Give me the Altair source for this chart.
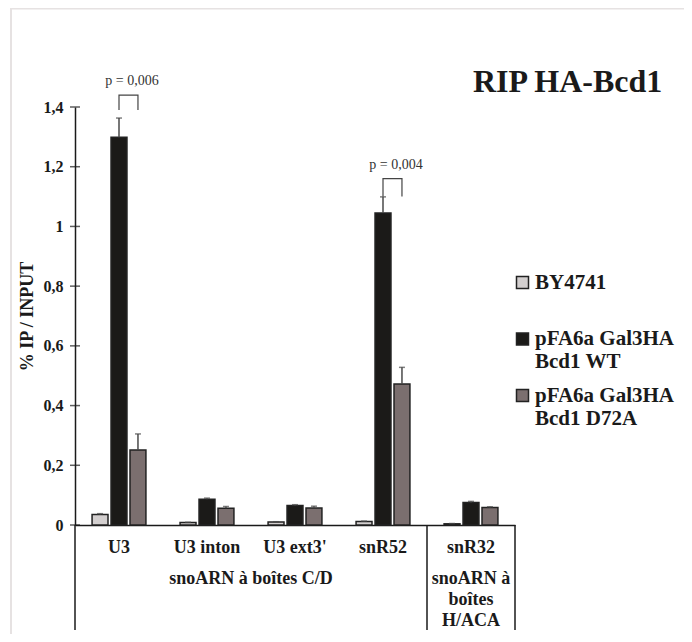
import altair as alt
import pandas as pd

# ---- data ----
categories = ["U3", "U3 inton", "U3 ext3'", "snR52", "snR32"]
series = ["BY4741", "pFA6a Gal3HA Bcd1 WT", "pFA6a Gal3HA Bcd1 D72A"]
by4741 = [0.035, 0.008, 0.010, 0.012, 0.004]
wt = [1.299, 0.086, 0.065, 1.045, 0.075]
d72a = [0.251, 0.056, 0.057, 0.472, 0.059]
err_by4741 = [0.003, 0.001, 0.001, 0.001, 0.001]
err_wt = [0.064, 0.004, 0.003, 0.054, 0.004]
err_d72a = [0.054, 0.006, 0.006, 0.056, 0.002]

group_names = ["snoARN à boîtes C/D", "snoARN à|boîtes|H/ACA"]
group_start = [0, 4]
group_count = [4, 1]

pval_cats = ["U3", "snR52"]
pval_labels = ["p = 0,006", "p = 0,004"]
pval_text_y = [1.487, 1.205]
bracket_top = [1.44, 1.16]
bracket_leg = [1.39, 1.10]

y_ticks = [0, 0.2, 0.4, 0.6, 0.8, 1.0, 1.2, 1.4]

colors = ["#d3cfcf", "#1b1a18", "#7b6f6f"]
FONT = "Liberation Serif"

# ---- tables ----
rows = []
for s, vals, errs in zip(series, [by4741, wt, d72a], [err_by4741, err_wt, err_d72a]):
    for c, v, e in zip(categories, vals, errs):
        rows.append({"cat": c, "series": s, "value": v, "top": v + e})
bars_df = pd.DataFrame(rows)

br_rows = []
for c, t, l in zip(pval_cats, bracket_top, bracket_leg):
    pts = [(series[1], l), (series[1], t), (series[2], t), (series[2], l)]
    for i, (s, y) in enumerate(pts):
        br_rows.append({"cat": c, "series": s, "y": y, "order": i})
br_df = pd.DataFrame(br_rows)

pv_df = pd.DataFrame({"cat": pval_cats, "series": series[2], "label": pval_labels, "y": pval_text_y})

grp_df = pd.DataFrame({"name": group_names, "start": group_start, "count": group_count})
div_df = pd.DataFrame({"pos": [0] + [s + c for s, c in zip(group_start, group_count)]})
tick_df = pd.DataFrame({"v": y_ticks})

x_off = alt.XOffset("series:N", sort=series,
                    scale=alt.Scale(domain=series, paddingInner=0.16, paddingOuter=0.9))
y_scale = alt.Scale(domain=[0, 1.4], nice=False)
q_scale = alt.Scale(domain=[0, len(categories)], nice=False, zero=False)


def xband(axis=None):
    return alt.X("cat:N", sort=categories,
                 scale=alt.Scale(domain=categories, paddingInner=0, paddingOuter=0), axis=axis)


bars = alt.Chart(bars_df).mark_bar(stroke="#222222", strokeWidth=1.5).encode(
    x=xband(alt.Axis(title=None, labelAngle=0, labelFont=FONT, labelFontSize=18,
                     labelFontWeight="bold", labelColor="#1a1a1a", labelPadding=13,
                     ticks=False, domainColor="#1a1a1a", domainWidth=1.5)),
    xOffset=x_off,
    y=alt.Y("value:Q", scale=y_scale,
            axis=alt.Axis(title="% IP / INPUT", values=y_ticks, grid=False, ticks=False,
                          labelExpr="replace(format(datum.value, '~g'), '.', ',')",
                          labelFont=FONT, labelFontSize=16, labelFontWeight="bold",
                          labelColor="#1a1a1a", labelPadding=12,
                          domainColor="#1a1a1a", domainWidth=1.5,
                          titleFont=FONT, titleFontSize=18, titleFontWeight="bold",
                          titleColor="#1a1a1a", titlePadding=7)),
    color=alt.Color("series:N", sort=series, scale=alt.Scale(domain=series, range=colors),
                    legend=alt.Legend(title=None, orient="none", legendX=437, legendY=165,
                                      symbolType="square", symbolSize=144,
                                      symbolStrokeColor="#222222", symbolStrokeWidth=1.5,
                                      labelFont=FONT, labelFontSize=21, labelFontWeight="bold",
                                      labelColor="#1a1a1a",
                                      labelOffset=2, labelLimit=300, rowPadding=11.5,
                                      labelBaseline="middle",
                                      labelExpr="datum.label == 'BY4741' ? ['BY4741', ''] : ['\u00a0' + slice(datum.label, 0, 12), slice(datum.label, 13)]")),
)

err_rule = alt.Chart(bars_df).mark_rule(color="#4a4a4a", strokeWidth=1.5).encode(
    x=xband(), xOffset=x_off,
    y=alt.Y("value:Q", scale=y_scale), y2="top:Q",
)
err_cap = alt.Chart(bars_df).mark_tick(color="#4a4a4a", thickness=1.5, size=6, orient="horizontal").encode(
    x=xband(), xOffset=x_off,
    y=alt.Y("top:Q", scale=y_scale),
)

brackets = alt.Chart(br_df).mark_line(color="#444444", strokeWidth=1.2).encode(
    x=xband(), xOffset=x_off,
    y=alt.Y("y:Q", scale=y_scale),
    detail="cat:N",
    order="order:Q",
)
pv_text = alt.Chart(pv_df).mark_text(font=FONT, fontSize=14, color="#333333", dx=-6,
                                     baseline="middle").encode(
    x=xband(), xOffset=x_off,
    y=alt.Y("y:Q", scale=y_scale),
    text="label:N",
)

# second-level category axis (groups), dividers and crossing y ticks
grp_text = alt.Chart(grp_df).transform_calculate(
    center="datum.start + datum.count / 2", lines="split(datum.name, '|')"
).mark_text(font=FONT, fontSize=18, fontWeight="bold", color="#1a1a1a",
            baseline="top", lineHeight=21, align="center").encode(
    x=alt.X("center:Q", scale=q_scale, axis=None),
    y=alt.value(463),
    text="lines:N",
)
dividers = alt.Chart(div_df).mark_rule(color="#1a1a1a", strokeWidth=1.5).encode(
    x=alt.X("pos:Q", scale=q_scale, axis=None),
    y=alt.value(418),
    y2=alt.value(523),
)
yticks = alt.Chart(tick_df).transform_calculate(x0="0").mark_tick(
    color="#1a1a1a", thickness=1.5, size=10, orient="horizontal").encode(
    x=alt.X("x0:Q", scale=q_scale, axis=None),
    y=alt.Y("v:Q", scale=y_scale),
)

frame = alt.Chart(tick_df.head(1)).mark_rect(fill=None, stroke="#e6e2e2", strokeWidth=2).encode(
    x=alt.value(-64), x2=alt.value(700), y=alt.value(-98.5), y2=alt.value(700)
)

chart = alt.layer(
    frame, bars, err_rule, err_cap, brackets, pv_text, grp_text, dividers, yticks
).resolve_scale(x="independent").properties(
    width=440, height=418,
    autosize="none",
    background="white",
    padding={"left": 67, "top": 99, "right": 169, "bottom": 109},
    title=alt.TitleParams("RIP HA-Bcd1", anchor="start", dx=463, dy=116, baseline="alphabetic",
                          font=FONT, fontSize=32, fontWeight="bold", color="#1a1a1a", offset=0),
).configure_view(stroke="transparent", strokeWidth=0)

chart.save("out.html", embed_options={"renderer": "svg", "actions": False})
